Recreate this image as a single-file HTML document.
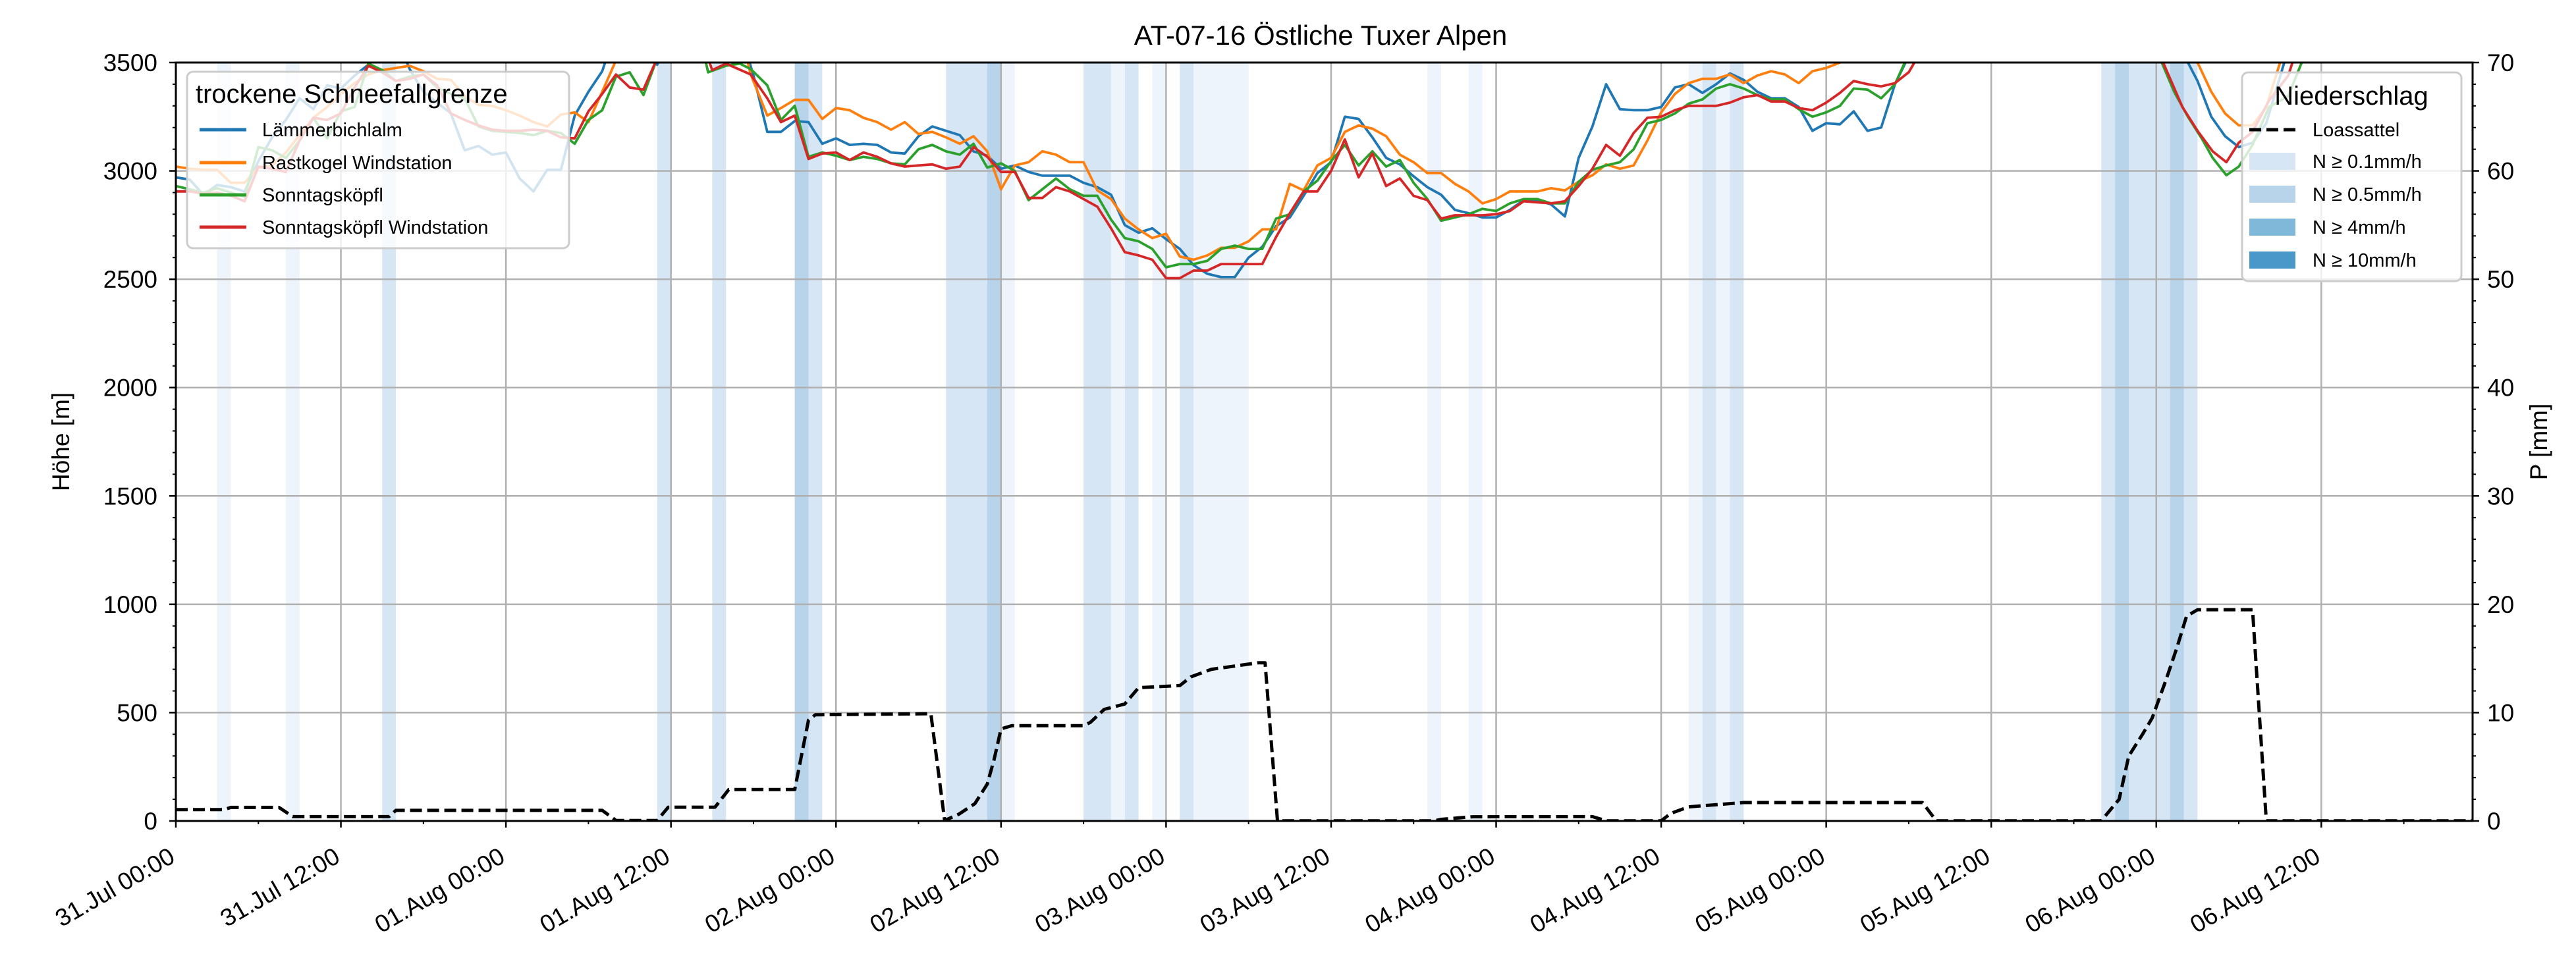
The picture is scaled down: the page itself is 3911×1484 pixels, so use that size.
<!DOCTYPE html>
<html><head><meta charset="utf-8"><style>
html,body{margin:0;padding:0;background:#fff}
svg{display:block;font-family:"Liberation Sans","DejaVu Sans",sans-serif}
</style></head><body>
<svg id="chart" xmlns="http://www.w3.org/2000/svg" width="3911" height="1484" viewBox="0 0 3911 1484">
<defs><clipPath id="pc"><rect x="267" y="95" width="3487" height="1152"/></clipPath></defs>
<rect width="3911" height="1484" fill="#fff"/>
<text x="2005" y="68" text-anchor="middle" font-size="42">AT-07-16 Östliche Tuxer Alpen</text>
<g id="precip" clip-path="url(#pc)"></g>
<g id="grid"></g>
<g id="series" clip-path="url(#pc)"></g>
<g id="axes"></g>
<text transform="translate(105,671) rotate(-90)" text-anchor="middle" font-size="37">Höhe [m]</text>
<text transform="translate(3867,671) rotate(-90)" text-anchor="middle" font-size="37">P [mm]</text>
<g>
<rect x="284" y="109" width="580" height="268" rx="9" fill="#fff" fill-opacity="0.8" stroke="#ccc" stroke-width="3"/>
<text x="297" y="156" font-size="40">trockene Schneefallgrenze</text>
<line x1="303" y1="197" x2="374" y2="197" stroke="#1f77b4" stroke-width="5"/><text x="398" y="207" font-size="29">Lämmerbichlalm</text>
<line x1="303" y1="247" x2="374" y2="247" stroke="#ff7f0e" stroke-width="5"/><text x="398" y="257" font-size="29">Rastkogel Windstation</text>
<line x1="303" y1="296" x2="374" y2="296" stroke="#2ca02c" stroke-width="5"/><text x="398" y="306" font-size="29">Sonntagsköpfl</text>
<line x1="303" y1="345" x2="374" y2="345" stroke="#d62728" stroke-width="5"/><text x="398" y="355" font-size="29">Sonntagsköpfl Windstation</text>
</g>
<g>
<rect x="3404" y="110" width="333" height="317" rx="9" fill="#fff" fill-opacity="0.8" stroke="#ccc" stroke-width="3"/>
<text x="3570" y="159" text-anchor="middle" font-size="40">Niederschlag</text>
<line x1="3415" y1="197" x2="3485" y2="197" stroke="#000" stroke-width="5" stroke-dasharray="18,8"/><text x="3511" y="207" font-size="29">Loassattel</text>
<rect x="3415" y="232" width="70" height="26" fill="#d6e6f4"/><text x="3511" y="255" font-size="29">N ≥ 0.1mm/h</text>
<rect x="3415" y="282" width="70" height="26" fill="#b7d4ea"/><text x="3511" y="305" font-size="29">N ≥ 0.5mm/h</text>
<rect x="3415" y="332" width="70" height="26" fill="#80b8da"/><text x="3511" y="355" font-size="29">N ≥ 4mm/h</text>
<rect x="3415" y="382" width="70" height="26" fill="#4a98c9"/><text x="3511" y="405" font-size="29">N ≥ 10mm/h</text>
</g>
</svg>
<script>
const xTickLabels=["31.Jul 00:00","31.Jul 12:00","01.Aug 00:00","01.Aug 12:00","02.Aug 00:00","02.Aug 12:00","03.Aug 00:00","03.Aug 12:00","04.Aug 00:00","04.Aug 12:00","05.Aug 00:00","05.Aug 12:00","06.Aug 00:00","06.Aug 12:00"];
const yTicks=[0,500,1000,1500,2000,2500,3000,3500];
const y2Ticks=[0,10,20,30,40,50,60,70];
const blueH=[0,1,2,3,4,5,6,7,8,9,10,11,12,13,14,15,16,17,18,19,20,21,22,23,24,25,26,27,28,29,30,31,32,34,35,36,41,42,43,44,45,46,47,48,49,50,51,52,53,54,55,56,57,58,59,60,61,62,63,64,65,66,67,68,69,70,71,72,73,74,75,76,77,78,79,80,81,82,83,84,85,86,87,88,89,90,91,92,93,94,95,96,97,98,99,100,101,102,103,104,105,106,107,108,109,110,111,112,113,114,115,116,117,118,119,120,121,122,123,124,125,126,127,145,146.3,147,148,149,150,151,152,153,154,167];
const blueV=[2970,2960,2890,2935,2925,2905,3045,3155,3235,3335,3285,3395,3380,3440,3490,3620,3620,3470,3365,3315,3265,3095,3115,3075,3085,2965,2905,3005,3005,3255,3365,3460,3650,3650,3490,3650,3650,3440,3180,3180,3230,3225,3125,3150,3120,3125,3120,3085,3080,3160,3205,3185,3165,3090,3070,3010,3025,2995,2978,2978,2978,2945,2925,2890,2750,2715,2735,2685,2640,2565,2525,2510,2510,2600,2650,2745,2785,2885,2990,3040,3250,3240,3155,3060,3030,2975,2925,2890,2820,2805,2785,2785,2820,2865,2865,2845,2790,3060,3205,3400,3285,3280,3280,3295,3385,3400,3360,3400,3450,3420,3365,3335,3335,3295,3185,3220,3215,3275,3185,3200,3400,3530,3650,3650,3500,3415,3250,3160,3110,3130,3220,3435,3650,3650];
const orangeH=[0,1,2,3,4,5,6,7,8,9,10,11,12,13,14,15,16,17,18,19,20,21,22,23,24,25,26,27,28,29,30,31,32,33,41,41.8,43,44,45,46,47,48,49,50,51,52,53,54,55,56,57,58,59,60,61,62,63,64,65,66,67,68,69,70,71,72,73,74,75,76,77,78,79,80,81,82,83,84,85,86,87,88,89,90,91,92,93,94,95,96,97,98,99,100,101,102,103,104,105,106,107,108,109,110,111,112,113,114,115,116,117,118,119,120,121,122,146,147,148,149,150,151,152,153,154,167];
const orangeV=[3020,3010,3005,3005,2945,2945,3015,3025,3085,3165,3245,3295,3355,3405,3445,3465,3475,3485,3460,3425,3420,3345,3305,3300,3280,3255,3225,3205,3260,3270,3225,3365,3510,3650,3650,3445,3255,3290,3328,3328,3240,3290,3280,3245,3225,3190,3225,3170,3180,3155,3125,3160,3090,2915,3025,3040,3090,3075,3040,3040,2910,2870,2780,2730,2690,2710,2605,2590,2610,2645,2645,2675,2730,2730,2940,2910,3025,3060,3180,3210,3195,3160,3075,3040,2990,2990,2940,2905,2850,2870,2905,2905,2905,2920,2910,2950,2980,3030,3010,3025,3140,3270,3355,3405,3425,3425,3445,3405,3440,3460,3445,3405,3460,3475,3500,3650,3650,3500,3365,3265,3210,3210,3295,3500,3650,3650];
const greenH=[0,1,2,3,4,5,6,7,8,9,10,11,12,13,14,15,16,17,18,19,20,21,22,23,24,25,26,27,28,29,30,31,32,33,34,35,36,38,38.7,40,41,41.8,43,44,45,46,47,48,49,50,51,52,53,54,55,56,57,58,59,60,61,62,63,64,65,66,67,68,69,70,71,72,73,74,75,76,77,78,79,80,81,82,83,84,85,86,87,88,89,90,91,92,93,94,95,96,97,98,99,100,101,102,103,104,105,106,107,108,109,110,111,112,113,114,115,116,117,118,119,120,121,122,123,124,125,126,127,143,144.4,145.3,146.3,147.3,148.1,149.1,150,151,152.2,153.6,154.1,154.7,155.5,167];
const greenV=[2930,2915,2900,2920,2900,2880,3110,3095,3060,3140,3245,3150,3275,3295,3495,3465,3415,3435,3445,3385,3355,3335,3205,3185,3180,3175,3165,3185,3175,3125,3235,3280,3435,3455,3350,3520,3650,3650,3455,3485,3495,3470,3395,3235,3300,3065,3085,3070,3050,3065,3055,3035,3030,3100,3120,3090,3075,3125,3015,3035,3000,2865,2915,2965,2915,2885,2885,2775,2690,2675,2640,2555,2570,2570,2585,2640,2655,2640,2640,2780,2800,2905,2955,3045,3120,3025,3090,3020,3050,2945,2870,2770,2785,2800,2825,2815,2850,2870,2870,2850,2850,2950,3005,3025,3040,3100,3220,3235,3265,3310,3330,3380,3400,3380,3350,3330,3330,3285,3250,3270,3300,3380,3375,3335,3400,3540,3650,3650,3500,3365,3250,3150,3060,2980,3020,3120,3295,3345,3425,3520,3650,3650];
const redH=[0,1,2,3,4,5,6,7,8,9,10,11,12,13,14,15,16,17,18,19,20,21,22,23,24,25,26,27,28,29,30,31,32,33,34,35,36,38,39,40,41.8,43,44,45,46,47,48,49,50,51,52,53,54,55,56,57,58,59,60,61,62,63,64,65,66,67,68,69,70,71,72,73,74,75,76,77,78,79,80,81,82,83,84,85,86,87,88,89,90,91,92,93,94,95,96,97,98,99,100,101,102,103,104,105,106,107,108,109,110,111,112,113,114,115,116,117,118,119,120,121,122,123,124,125,126,126.6,127,143,144.5,145.9,147,148.1,149.1,150,151,152.2,153.6,154,155,167];
const redV=[2905,2905,2895,2900,2885,2860,3020,3010,2995,3140,3245,3235,3265,3385,3485,3455,3415,3425,3445,3395,3265,3235,3210,3190,3185,3185,3190,3185,3155,3150,3275,3355,3445,3385,3375,3520,3650,3650,3465,3495,3445,3335,3225,3255,3055,3080,3085,3050,3085,3065,3035,3020,3025,3030,3010,3020,3110,3065,2995,2995,2875,2875,2925,2905,2870,2835,2735,2625,2610,2590,2505,2505,2540,2540,2570,2570,2570,2570,2695,2805,2905,2905,3000,3145,2970,3080,2930,2965,2885,2865,2780,2795,2795,2795,2800,2815,2860,2855,2850,2860,2930,3010,3120,3070,3175,3245,3250,3280,3300,3300,3300,3315,3340,3350,3320,3320,3290,3280,3315,3360,3415,3400,3390,3405,3455,3520,3650,3650,3500,3295,3185,3090,3040,3130,3180,3325,3440,3520,3650,3650];
const loasH=[0,3.5,4,7.5,8.5,15.5,16,31,32,35,35.8,39.2,40.2,45,46,46.5,54.9,55.9,56.9,58.1,59,59.5,60,60.8,66,66.5,67.5,69,70,73,73.8,75.3,78.7,79.2,80.1,91.5,92,94.3,103,104,108,108.7,110,114,127,128,140,141.3,142,143,143.7,144.7,145.5,146.2,147,151,152,167];
const loasV=[1.05,1.05,1.25,1.25,0.4,0.4,0.98,0.98,0.05,0.05,1.27,1.27,2.9,2.9,9.3,9.8,9.9,0.05,0.6,1.6,3.4,5.7,8.5,8.8,8.8,9.1,10.3,10.8,12.3,12.5,13.3,14,14.6,14.6,0.02,0.02,0.15,0.39,0.4,0.02,0.02,0.7,1.3,1.7,1.7,0.02,0.02,2,6,8,9.5,13,16,18.9,19.5,19.5,0.02,0.02];
const precipStart=[3,8,15,35,39,45,46,56,59,60,66,68,69,71,73,74,91,94,110,111,112,113,140,141,142,144,145,146];
const precipEnd=[4,9,16,36,40,46,47,59,60,61,68,69,70,72,74,78,92,95,111,112,113,114,141,142,144,145,146,147];
const precipLevel=[0,0,1,1,1,2,1,1,2,0,1,0,1,0,1,0,0,0,0,1,0,1,1,2,1,1,2,1];

const NS="http://www.w3.org/2000/svg";
const X0=267,X1=3754,Y0=95,Y1=1247,HMAX=167;
const xs=h=>X0+(X1-X0)*h/HMAX;
const ys=v=>Y1-(Y1-Y0)*v/3500;
const ys2=v=>Y1-(Y1-Y0)*v/70;
function mk(tag,attrs,parent){const e=document.createElementNS(NS,tag);for(const k in attrs)e.setAttribute(k,attrs[k]);parent.appendChild(e);return e;}
const levelColors=["#eef4fb","#d6e6f4","#b7d4ea","#80b8da","#4a98c9"];
const pg=document.getElementById('precip');
precipStart.forEach((s,i)=>{const r=mk('rect',{x:xs(s),y:Y0,width:xs(precipEnd[i])-xs(s),height:Y1-Y0,fill:levelColors[precipLevel[i]]},pg);

});
const gg=document.getElementById('grid');
xTickLabels.forEach((t,i)=>{const x=xs(i*12);mk('line',{x1:x,y1:Y0,x2:x,y2:Y1,stroke:'#b0b0b0','stroke-width':2.5},gg);});
yTicks.forEach(v=>{const y=ys(v);mk('line',{x1:X0,y1:y,x2:X1,y2:y,stroke:'#b0b0b0','stroke-width':2.5},gg);});
const sg=document.getElementById('series');
function line(H,V,color,name,scale,dash){const d=H.map((h,i)=>(i?'L':'M')+xs(h).toFixed(1)+','+scale(V[i]).toFixed(1)).join('');
const p=mk('path',{d:d,fill:'none',stroke:color,'stroke-width':dash?5:3.8,'stroke-linejoin':'round'},sg);
if(dash)p.setAttribute('stroke-dasharray','18,8');

}
line(blueH,blueV,'#1f77b4','line-laemmerbichlalm',ys);
line(orangeH,orangeV,'#ff7f0e','line-rastkogel',ys);
line(greenH,greenV,'#2ca02c','line-sonntagskoepfl',ys);
line(redH,redV,'#d62728','line-sonntagskoepfl-wind',ys);
line(loasH,loasV,'#000','line-loassattel',ys2,true);
const ag=document.getElementById('axes');
mk('rect',{x:X0,y:Y0,width:X1-X0,height:Y1-Y0,fill:'none',stroke:'#000','stroke-width':3},ag);
for(let m=0;m<=3500;m+=100){const y=ys(m);const maj=m%500===0;mk('line',{x1:X0-(maj?10:5),y1:y,x2:X0,y2:y,stroke:'#000','stroke-width':maj?2.5:2},ag);}
yTicks.forEach(v=>{const t=mk('text',{x:X0-28,y:ys(v)+13,'text-anchor':'end','font-size':37},ag);t.textContent=v;

});
for(let m=0;m<=70;m+=2){const y=ys2(m);const maj=m%10===0;mk('line',{x1:X1,y1:y,x2:X1+(maj?10:5),y2:y,stroke:'#000','stroke-width':maj?2.5:2},ag);}
y2Ticks.forEach(v=>{const t=mk('text',{x:X1+22,y:ys2(v)+13,'font-size':37},ag);t.textContent=v;

});
for(let h=0;h<=HMAX;h+=6){const x=xs(h);const maj=h%12===0;mk('line',{x1:x,y1:Y1,x2:x,y2:Y1+(maj?10:5),stroke:'#000','stroke-width':maj?2.5:2},ag);}
xTickLabels.forEach((s,i)=>{const x=xs(i*12);const t=mk('text',{transform:`translate(${x+1},${Y1+61}) rotate(-30)`,'text-anchor':'end','font-size':37},ag);t.textContent=s;

});
</script>
</body></html>
